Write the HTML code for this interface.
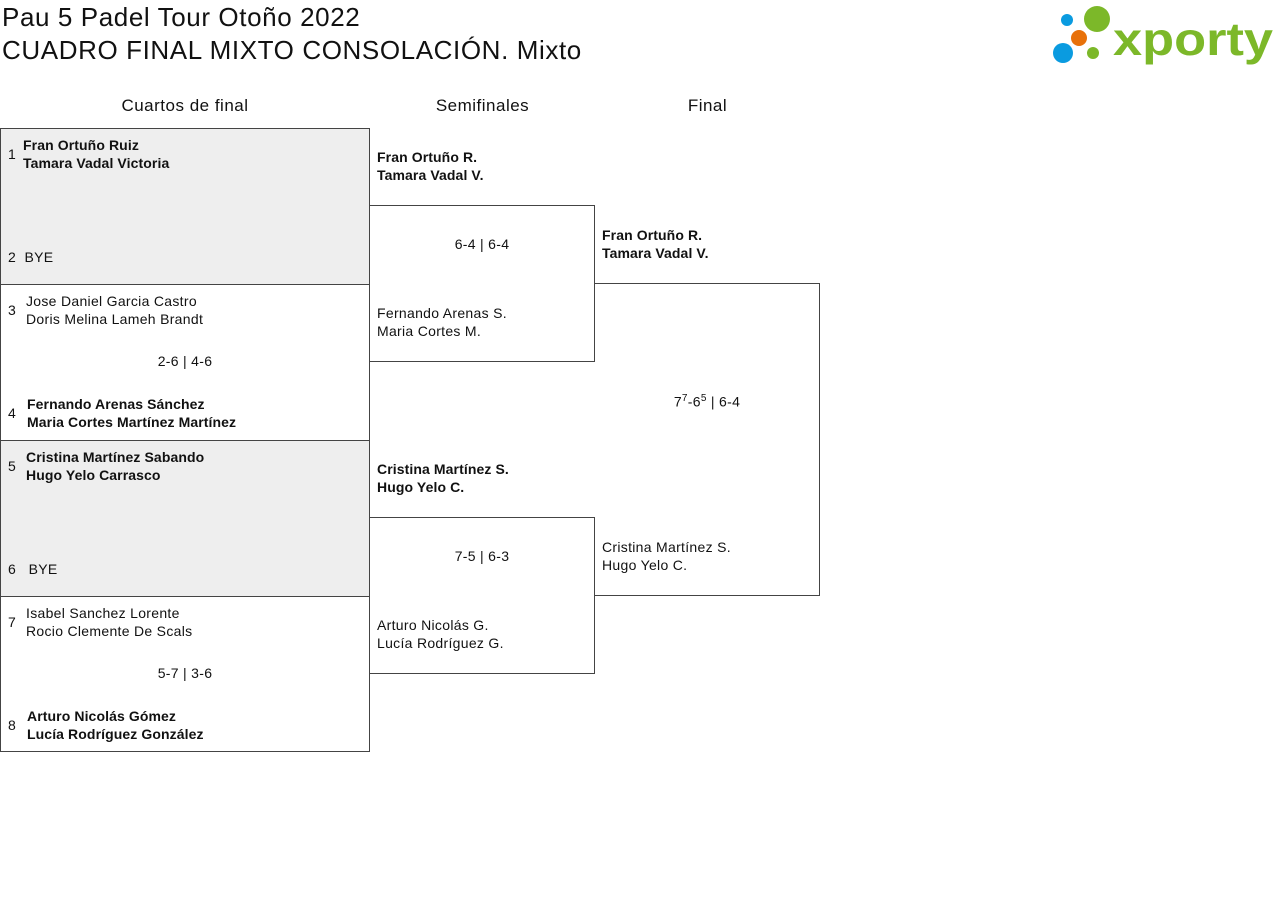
<!DOCTYPE html>
<html><head><meta charset="utf-8"><style>
body{margin:0;width:1280px;height:916px;background:#fff;font-family:"Liberation Sans",sans-serif;color:#111;position:relative;overflow:hidden}
div{position:absolute}
.t{font-size:26px;left:2px;white-space:nowrap;letter-spacing:0.6px}
.h{font-size:17px;text-align:center;letter-spacing:0.5px}
.box{border:1px solid #444;box-sizing:border-box}
.g{background:#eee}
.s{font-size:14px;line-height:18px;white-space:nowrap;letter-spacing:0.3px}
.b{font-weight:bold;font-size:14px;letter-spacing:0.1px}
.sc{font-size:14px;text-align:center;letter-spacing:0.3px}
</style></head><body>
<div class="t" style="top:2px">Pau 5 Padel Tour Otoño 2022</div>
<div class="t" style="top:35px">CUADRO FINAL MIXTO CONSOLACIÓN. Mixto</div>
<svg style="position:absolute;left:1040px;top:0" width="240" height="70">
<circle cx="27" cy="20" r="6" fill="#0a9be0"/><circle cx="57" cy="19" r="13" fill="#7cb829"/>
<circle cx="39" cy="38" r="8" fill="#e8710a"/><circle cx="23" cy="53" r="10" fill="#0a9be0"/>
<circle cx="53" cy="53" r="6" fill="#7cb829"/>
<text x="73" y="55" font-family="Liberation Sans" font-weight="bold" font-size="46" fill="#7cb829" textLength="160" lengthAdjust="spacingAndGlyphs">xporty</text>
</svg>
<div class="h" style="left:0;width:370px;top:96px">Cuartos de final</div>
<div class="h" style="left:370px;width:225px;top:96px">Semifinales</div>
<div class="h" style="left:595px;width:225px;top:96px">Final</div>

<div class="box g" style="left:0;top:128px;width:370px;height:157px"></div>
<div class="box" style="left:0;top:284px;width:370px;height:157px"></div>
<div class="box g" style="left:0;top:440px;width:370px;height:157px"></div>
<div class="box" style="left:0;top:596px;width:370px;height:156px"></div>
<div class="box" style="left:594px;top:283px;width:226px;height:313px;border-left:none"></div>
<div class="box" style="left:369px;top:205px;width:226px;height:157px"></div>
<div class="box" style="left:369px;top:517px;width:226px;height:157px"></div>

<div class="s" style="left:8px;top:145px">1</div>
<div class="s b" style="left:23px;top:136px">Fran Ortuño Ruiz<br>Tamara Vadal Victoria</div>
<div class="s" style="left:8px;top:248px">2&nbsp;&nbsp;BYE</div>
<div class="s" style="left:8px;top:301px">3</div>
<div class="s" style="left:26px;top:292px">Jose Daniel Garcia Castro<br>Doris Melina Lameh Brandt</div>
<div class="sc" style="left:0;width:370px;top:353px">2-6 | 4-6</div>
<div class="s" style="left:8px;top:404px">4</div>
<div class="s b" style="left:27px;top:395px">Fernando Arenas Sánchez<br>Maria Cortes Martínez Martínez</div>
<div class="s" style="left:8px;top:457px">5</div>
<div class="s b" style="left:26px;top:448px">Cristina Martínez Sabando<br>Hugo Yelo Carrasco</div>
<div class="s" style="left:8px;top:560px">6&nbsp;&nbsp;&nbsp;BYE</div>
<div class="s" style="left:8px;top:613px">7</div>
<div class="s" style="left:26px;top:604px">Isabel Sanchez Lorente<br>Rocio Clemente De Scals</div>
<div class="sc" style="left:0;width:370px;top:665px">5-7 | 3-6</div>
<div class="s" style="left:8px;top:716px">8</div>
<div class="s b" style="left:27px;top:707px">Arturo Nicolás Gómez<br>Lucía Rodríguez González</div>

<div class="s b" style="left:377px;top:148px">Fran Ortuño R.<br>Tamara Vadal V.</div>
<div class="sc" style="left:369px;width:226px;top:236px">6-4 | 6-4</div>
<div class="s" style="left:377px;top:304px">Fernando Arenas S.<br>Maria Cortes M.</div>
<div class="s b" style="left:377px;top:460px">Cristina Martínez S.<br>Hugo Yelo C.</div>
<div class="sc" style="left:369px;width:226px;top:548px">7-5 | 6-3</div>
<div class="s" style="left:377px;top:616px">Arturo Nicolás G.<br>Lucía Rodríguez G.</div>

<div class="s b" style="left:602px;top:226px">Fran Ortuño R.<br>Tamara Vadal V.</div>
<div class="sc" style="left:594px;width:226px;top:393px">7<sup style="font-size:10px">7</sup>-6<sup style="font-size:10px">5</sup> | 6-4</div>
<div class="s" style="left:602px;top:538px">Cristina Martínez S.<br>Hugo Yelo C.</div>
</body></html>
